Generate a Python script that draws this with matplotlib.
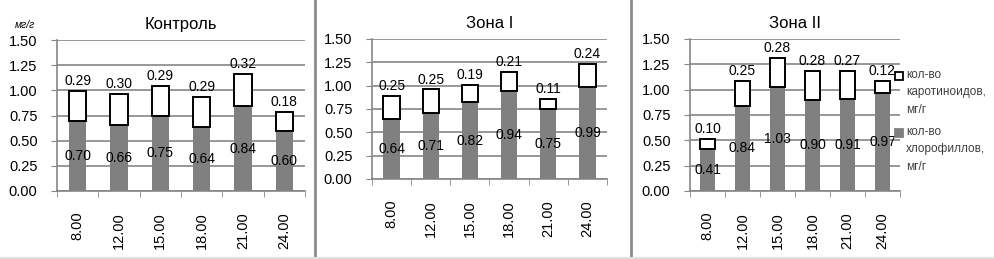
import numpy as np
import matplotlib
matplotlib.use("Agg")
from matplotlib import pyplot as plt
from matplotlib.lines import Line2D
from matplotlib.patches import Rectangle

times = ["8.00", "12.00", "15.00", "18.00", "21.00", "24.00"]
titles = ["Контроль", "Зона I", "Зона II"]

chl_control = [0.70, 0.66, 0.75, 0.64, 0.84, 0.60]
car_control = [0.29, 0.30, 0.29, 0.29, 0.32, 0.18]
chl_zone1 = [0.64, 0.71, 0.82, 0.94, 0.75, 0.99]
car_zone1 = [0.25, 0.25, 0.19, 0.21, 0.11, 0.24]
chl_zone2 = [0.41, 0.84, 1.03, 0.90, 0.91, 0.97]
car_zone2 = [0.10, 0.25, 0.28, 0.28, 0.27, 0.12]

yticks = [0.0, 0.25, 0.5, 0.75, 1.0, 1.25, 1.5]
legend_labels = ["кол-во\nкаротиноидов,\nмг/г", "кол-во\nхлорофиллов,\nмг/г"]

plt.rcParams['font.family'] = ['Liberation Sans', 'DejaVu Sans']

fig = plt.figure(figsize=(9.95, 2.59), dpi=100)
W, H = 995.0, 259.0

# axes boxes in pixels: left, right, top, bottom
boxes = [(57, 305, 40, 191), (372, 607, 39, 179), (690, 900, 39, 191)]
data = [(chl_control, car_control), (chl_zone1, car_zone1), (chl_zone2, car_zone2)]

for (l, r, t, b), (chl, car), title in zip(boxes, data, titles):
    ax = fig.add_axes([l / W, 1 - b / H, (r - l) / W, (b - t) / H])
    x = np.arange(len(times))
    ax.bar(x, chl, width=0.42, color="#808080", zorder=2)
    ax.bar(x, car, bottom=chl, width=0.42, color="white",
           edgecolor="black", linewidth=1.4, zorder=3)
    for i in range(len(times)):
        ax.text(x[i], chl[i] / 2, "%.2f" % chl[i], ha="center", va="center",
                fontsize=10, zorder=4)
        ax.text(x[i], chl[i] + car[i] + 0.03, "%.2f" % car[i], ha="center",
                va="bottom", fontsize=10, zorder=4)
    ax.set_xlim(-0.5, len(times) - 0.5)
    ax.set_ylim(0, 1.5)
    ax.set_yticks(yticks)
    ax.set_yticklabels(["%.2f" % v for v in yticks], fontsize=10.5)
    ax.set_xticks(x)
    ax.set_xticklabels(times, rotation=90, fontsize=10.5)
    ax.set_xticks(np.arange(-0.5, len(times)), minor=True)
    ax.tick_params(axis="x", which="major", length=0, pad=15)
    ax.tick_params(axis="x", which="minor", length=4, color="#868686")
    ax.tick_params(axis="y", length=4, color="#868686", pad=10)
    ax.yaxis.grid(True, color="#868686", linewidth=1.2, zorder=0)
    ax.set_axisbelow(True)
    for s in ["top", "right"]:
        ax.spines[s].set_visible(False)
    for s in ["left", "bottom"]:
        ax.spines[s].set_color("#868686")
        ax.spines[s].set_linewidth(1.2)
    ax.set_title(title, fontsize=12, pad=8)

fig.text(15 / W, 1 - 25 / H, "мг/г", fontsize=7.5, style="italic", va="center")

# legend drawn by hand: marker next to the first line of each label
legend_faces = [("white", "black"), ("#808080", "#808080")]
for k, (lab, (fc, ec)) in enumerate(zip(legend_labels, legend_faces)):
    y0 = 76 + k * 57
    fig.add_artist(Rectangle((895 / W, 1 - (y0 + 4) / H), 8 / W, 8 / H,
                             facecolor=fc, edgecolor=ec, linewidth=1.3,
                             transform=fig.transFigure))
    fig.text(906 / W, 1 - (y0 - 7) / H, lab, fontsize=8.5, color="#404040",
             va="top", ha="left", linespacing=1.6)

for xs in [315, 631]:
    fig.add_artist(Line2D([xs / W, xs / W], [0, 1], color="#8c8c8c", linewidth=2))
fig.add_artist(Line2D([0, 1], [1.5 / H, 1.5 / H], color="#e0e0e0", linewidth=1.5))

fig.savefig("out.png", dpi=100)
